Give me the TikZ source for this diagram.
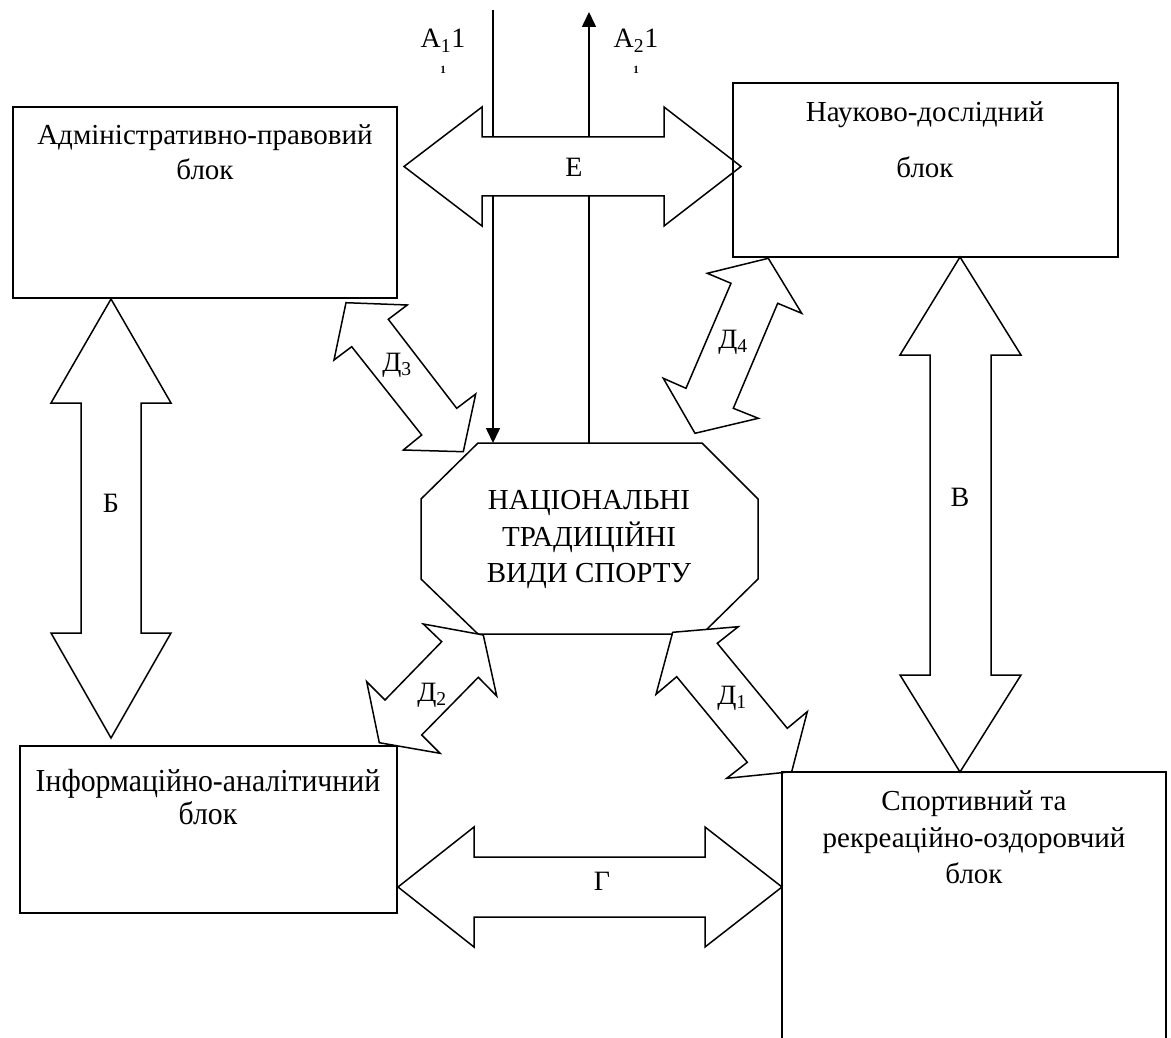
\documentclass[tikz,border=0pt]{standalone}
\usepackage{fontspec}
\setmainfont{Liberation Serif}
\newfontfamily\condensedserif[FakeStretch=0.93]{Liberation Serif}
\usetikzlibrary{arrows.meta}
\begin{document}
\begin{tikzpicture}[x=1pt,y=-1pt,line width=1.5pt,line join=miter,
  dblarrow/.style={draw,fill=white,line width=1.5pt},
  boxline/.style={draw,line width=1.5pt},
  txt/.style={font=\fontsize{29}{34}\selectfont,anchor=base,inner sep=0pt},
  ctxt/.style={font=\condensedserif\fontsize{32}{34}\selectfont,anchor=base,inner sep=0pt},
  lbl/.style={font=\fontsize{28}{32}\selectfont,anchor=base,inner sep=0pt},
  tiny/.style={font=\fontsize{11}{11}\selectfont\bfseries,anchor=base,inner sep=0pt},
  flow/.style={draw,line width=1.5pt,-{Triangle[length=15pt,width=14pt]}}]
\fill[white] (0,0) rectangle (1171,1038);
\useasboundingbox (0,0) rectangle (1171,1038);

% vertical flow lines
\coordinate (a1s) at (493,10);
\coordinate (a1e) at (493,443);
\coordinate (a2s) at (589,443);
\coordinate (a2e) at (589,12);
\draw[flow] (a1s) -- (a1e);
\draw[flow] (a2s) -- (a2e);

% octagon
\draw[boxline] (478,443) -- (702,443) -- (758,499) -- (758,579) -- (702,634) -- (478,634) -- (421,579) -- (421,499) -- cycle;
\node[txt] (nat1) at (589,509) {НАЦІОНАЛЬНІ};
\node[txt] (nat2) at (589,546) {ТРАДИЦІЙНІ};
\node[txt] (nat3) at (589,582) {ВИДИ СПОРТУ};

% E arrow
\draw[dblarrow] (404,166.5) -- (482,107) -- (482,137) -- (664,137) -- (664,107) -- (741,166.5) -- (664,226) -- (664,196) -- (482,196) -- (482,226) -- cycle;
\node[lbl] (le) at (574,177) {Е};

% Б arrow
\draw[dblarrow] (111,299) -- (171,403) -- (141,403) -- (141,633) -- (171,633) -- (111,738) -- (51,633) -- (81,633) -- (81,403) -- (51,403) -- cycle;
\node[lbl] (lb) at (111,512) {Б};

% В arrow
\draw[dblarrow] (960,257) -- (1021,355) -- (991,355) -- (991,675) -- (1021,675) -- (960,772) -- (900,675) -- (930,675) -- (930,355) -- (900,355) -- cycle;
\node[lbl] (lv) at (960,506) {В};

% Г arrow
\draw[dblarrow] (398,887) -- (474,827) -- (474,857) -- (705,857) -- (705,827) -- (782,887) -- (705,947) -- (705,917) -- (474,917) -- (474,947) -- cycle;
\node[lbl] (lg) at (602,890) {Г};

% Д3
\draw[dblarrow] (346.0,302.7) -- (407.3,305.0) -- (388.3,319.3) -- (456.7,408.3) -- (475.7,394.0) -- (463.3,451.7) -- (403.3,450.0) -- (421.7,435.0) -- (351.7,346.7) -- (334.0,360.0) -- cycle;
\node[lbl] (ld3) at (397,371) {Д\textsubscript{3}};

% Д4
\draw[dblarrow] (768.3,258.3) -- (801.7,313.3) -- (777.7,303.3) -- (733.3,408.3) -- (758.3,418.3) -- (695.0,433.3) -- (663.3,378.3) -- (686.0,388.3) -- (731.0,283.3) -- (707.3,273.3) -- cycle;
\node[lbl] (ld4) at (733,348) {Д\textsubscript{4}};

% Д2
\draw[dblarrow] (423.3,624.0) -- (441.7,641.7) -- (385.0,700.0) -- (366.7,681.7) -- (379.3,742.7) -- (440.0,753.3) -- (421.7,735.0) -- (478.3,677.3) -- (496.7,696.0) -- (483.3,635.0) -- cycle;
\node[lbl] (ld2) at (432,701) {Д\textsubscript{2}};

% Д1
\draw[dblarrow] (672.7,632.3) -- (738.3,626.7) -- (717.3,643.3) -- (787.3,728.3) -- (807.3,711.7) -- (791.7,771.7) -- (726.7,778.3) -- (747.3,762.3) -- (676.7,676.7) -- (656.0,694.3) -- cycle;
\node[lbl] (ld1) at (732,704) {Д\textsubscript{1}};

% boxes
\draw[boxline] (13,107) rectangle (397,298);
\node[txt] (adm1) at (205,145) {Адміністративно-правовий};
\node[txt] (adm2) at (205,179) {блок};

\draw[boxline] (733,83) rectangle (1118,257);
\node[txt] (nd1) at (925,122) {Науково-дослідний};
\node[txt] (nd2) at (925,178) {блок};

\draw[boxline] (20,746) rectangle (397,913);
\node[ctxt] (inf1) at (208,791) {Інформаційно-аналітичний};
\node[ctxt] (inf2) at (208,824) {блок};

\draw[boxline] (782,1045) -- (782,772) -- (1166,772) -- (1166,1045);
\node[txt] (sp1) at (974,810) {Спортивний та};
\node[txt] (sp2) at (974,847) {рекреаційно-оздоровчий};
\node[txt] (sp3) at (974,883) {блок};

% top labels
\node[lbl] (la1) at (443,48) {А\textsubscript{1}1};
\node[tiny] (la1b) at (443,74) {1};
\node[lbl] (la2) at (636,48) {А\textsubscript{2}1};
\node[tiny] (la2b) at (636,74) {1};
\end{tikzpicture}
\end{document}
